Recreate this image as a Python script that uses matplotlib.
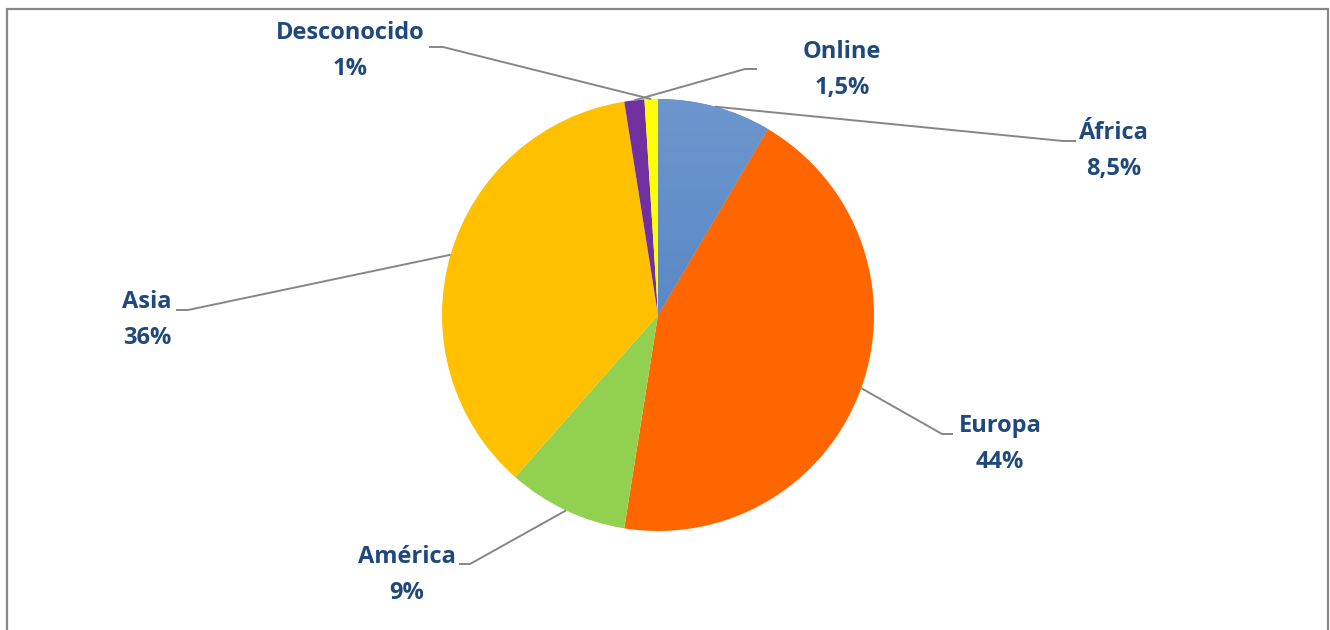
import numpy as np
import matplotlib
matplotlib.use("Agg")
import matplotlib.pyplot as plt
from matplotlib.colors import LinearSegmentedColormap

# ---- data ----
categories = ["África", "Europa", "América", "Asia", "Online", "Desconocido"]
values = [8.5, 44, 9, 36, 1.5, 1]
value_labels = ["8,5%", "44%", "9%", "36%", "1,5%", "1%"]
colors = ["#5B8BC9", "#FF6600", "#92D050", "#FFC000", "#7030A0", "#FFFF00"]

# ---- layout (pixel coordinates, y measured from top) ----
W, H = 1330, 630
center_px = (658, 315)
radius_px = 216
label_pos = {
    "África": (1114, 151),
    "Europa": (1000, 444),
    "América": (407, 575),
    "Asia": (147, 320),
    "Online": (842, 70),
    "Desconocido": (350, 51),
}
leader_knee = {
    "África": ((1063, 141), (1076, 141)),
    "Europa": ((942, 434), (953, 434)),
    "América": ((470, 564), (459, 564)),
    "Asia": ((188, 310), (176, 310)),
    "Online": ((745, 69), (757, 69)),
    "Desconocido": ((443, 47), (429, 47)),
}
text_color = "#1F497D"
line_color = "#868686"

fig = plt.figure(figsize=(W / 100, H / 100), dpi=100)
ax = fig.add_axes([0, 0, 1, 1])

def fy(y):
    return H - y

cx, cy = center_px[0], fy(center_px[1])
wedges, _ = ax.pie(values, colors=colors, startangle=90, counterclock=False,
                   center=(cx, cy), radius=radius_px, frame=True,
                   wedgeprops=dict(linewidth=0))

# gradient fill for África slice
w0 = wedges[0]
grad = np.linspace(0, 1, 256).reshape(-1, 1)
cmap = LinearSegmentedColormap.from_list("afr", ["#4A7CBF", "#6C96CD"])
im = ax.imshow(grad, cmap=cmap,
               extent=(cx - radius_px, cx + radius_px, cy - radius_px, cy + radius_px),
               origin="lower", aspect="auto", zorder=w0.get_zorder() + 0.1)
im.set_clip_path(w0)

ax.set_xlim(0, W)
ax.set_ylim(0, H)
ax.set_aspect("equal")
ax.axis("off")

# leader lines and labels
for wdg, cat, lab in zip(wedges, categories, value_labels):
    ang = np.deg2rad((wdg.theta1 + wdg.theta2) / 2)
    sx = cx + radius_px * np.cos(ang)
    sy = cy + radius_px * np.sin(ang)
    (kx, ky), (ex, ey) = leader_knee[cat]
    ax.plot([sx, kx, ex], [sy, fy(ky), fy(ey)], color=line_color, lw=1.4,
            solid_capstyle="butt", zorder=5)
    lx, ly = label_pos[cat]
    ax.text(lx, fy(ly), f"{cat}\n{lab}", ha="center", va="center",
            color=text_color, fontsize=17, fontweight="bold",
            family=["Open Sans", "DejaVu Sans"], linespacing=1.62, zorder=6)

# chart frame (open at bottom)
ax.plot([7, 7, 1328, 1328], [0, fy(9), fy(9), 0], color=line_color, lw=1.6,
        solid_joinstyle="miter", zorder=1)

fig.savefig("out.png", dpi=100)
